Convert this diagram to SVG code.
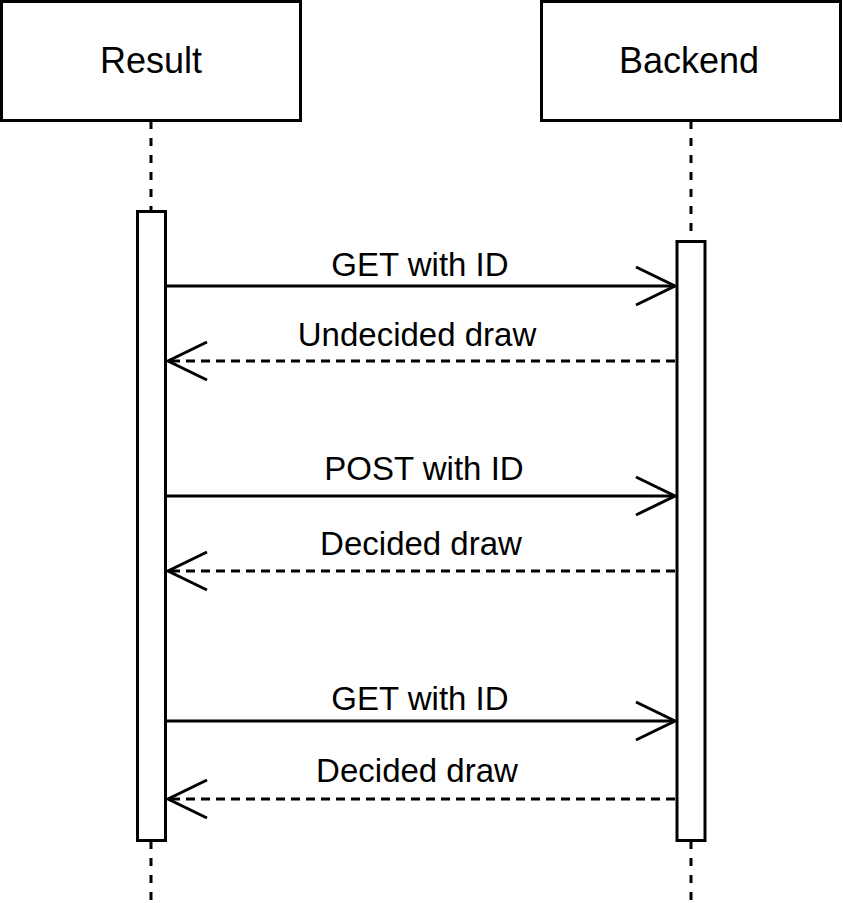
<svg xmlns="http://www.w3.org/2000/svg" width="843" height="903" viewBox="0 0 843 903">
<style>
.box{fill:#fff;stroke:#000;stroke-width:3}
.life{stroke:#000;stroke-width:3;stroke-dasharray:8 9;fill:none}
.msg{stroke:#000;stroke-width:3;fill:none}
.ret{stroke:#000;stroke-width:3;fill:none;stroke-dasharray:9 6}
.head{fill:none;stroke:#000;stroke-width:3}
.hd{font-family:"Liberation Sans",Arial,sans-serif;font-size:36px;text-anchor:middle;fill:#000}
.lb{font-family:"Liberation Sans",Arial,sans-serif;font-size:33px;text-anchor:middle;fill:#000}
</style>
<rect width="843" height="903" fill="#fff"/>
<g id="lifelines">
<line class="life" x1="151" y1="121" x2="151" y2="211"/>
<line class="life" x1="151" y1="841" x2="151" y2="903"/>
<line class="life" x1="691" y1="121" x2="691" y2="241"/>
<line class="life" x1="691" y1="841" x2="691" y2="903"/>
</g>
<g id="result">
<rect class="box" x="1.5" y="1.5" width="299" height="119"/>
<text class="hd" x="151" y="73">Result</text>
</g>
<g id="backend">
<rect class="box" x="541.5" y="1.5" width="299" height="119"/>
<text class="hd" x="689" y="73">Backend</text>
</g>
<g id="result-activation">
<rect class="box" x="137.5" y="211.5" width="28" height="629"/>
</g>
<g id="backend-activation">
<rect class="box" x="677" y="241.5" width="28" height="599"/>
</g>
<g id="connectors">
<line class="msg" x1="166" y1="286" x2="675" y2="286"/>
<polyline class="head" points="636,267 675,286 636,305"/>
<text class="lb" x="420" y="276">GET with ID</text>
<line class="ret" x1="675" y1="361" x2="168" y2="361"/>
<polyline class="head" points="207,342 168,361 207,380"/>
<text class="lb" x="417" y="346">Undecided draw</text>
<line class="msg" x1="166" y1="496" x2="675" y2="496"/>
<polyline class="head" points="636,477 675,496 636,515"/>
<text class="lb" x="424" y="480">POST with ID</text>
<line class="ret" x1="675" y1="571" x2="168" y2="571"/>
<polyline class="head" points="207,552 168,571 207,590"/>
<text class="lb" x="421" y="555">Decided draw</text>
<line class="msg" x1="166" y1="721" x2="675" y2="721"/>
<polyline class="head" points="636,702 675,721 636,740"/>
<text class="lb" x="420" y="710">GET with ID</text>
<line class="ret" x1="675" y1="799" x2="168" y2="799"/>
<polyline class="head" points="207,780 168,799 207,818"/>
<text class="lb" x="417" y="782">Decided draw</text>
</g>
</svg>
